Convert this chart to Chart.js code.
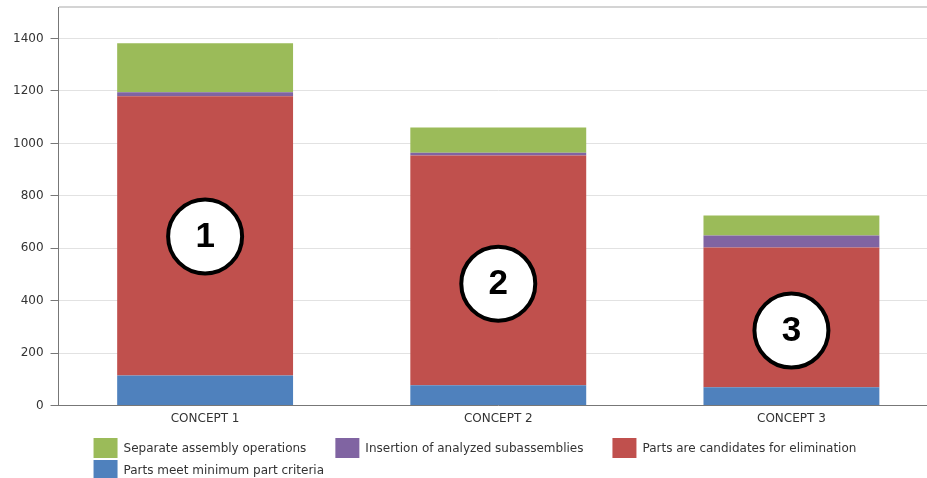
<!DOCTYPE html>
<html>
<head>
<meta charset="utf-8">
<script src="https://cdn.jsdelivr.net/npm/chart.js@4.4.1/dist/chart.umd.min.js"></script>
<style>
  html, body { margin: 0; padding: 0; background: #fff; overflow: hidden; }
  #box { width: 940px; height: 478px; }
</style>
</head>
<body>
<div id="box"><canvas id="grafico"></canvas></div>
<script>
var conceitos = ['CONCEPT 1', 'CONCEPT 2', 'CONCEPT 3'];
var azul = [115, 78, 70];      // Parts meet minimum part criteria
var vermelho = [1065, 876, 533]; // Parts are candidates for elimination
var roxo = [15, 10, 46];       // Insertion of analyzed subassemblies
var verde = [187, 97, 76];     // Separate assembly operations
var yTicks = [0, 200, 400, 600, 800, 1000, 1200, 1400];
var yMax = 1520;
var marcas = ['1', '2', '3'];
var marcaValores = [645, 465, 286];

Chart.defaults.font.family = '"DejaVu Sans", Verdana, sans-serif';
Chart.defaults.font.size = 12;
Chart.defaults.color = '#333';

// circulos numerados sobre as barras
var circulos = {
    id: 'circulos',
    afterDatasetsDraw(chart) {
        const ctx = chart.ctx;
        const meta = chart.getDatasetMeta(0);
        const y = chart.scales.y;
        ctx.save();
        meta.data.forEach(function (bar, i) {
            const cx = bar.x;
            const cy = y.getPixelForValue(marcaValores[i]);
            ctx.beginPath();
            ctx.arc(cx, cy, 37, 0, Math.PI * 2);
            ctx.fillStyle = '#fff';
            ctx.fill();
            ctx.lineWidth = 4;
            ctx.strokeStyle = '#000';
            ctx.stroke();
            ctx.fillStyle = '#000';
            ctx.font = 'bold 35px "Liberation Sans", Arial, sans-serif';
            ctx.textAlign = 'center';
            ctx.textBaseline = 'middle';
            ctx.fillText(marcas[i], cx, cy + 1);
        });
        ctx.restore();
    }
};

// legenda desenhada a mao (alinhada a esquerda, duas linhas)
var legenda = {
    id: 'legenda',
    afterDraw(chart) {
        const ctx = chart.ctx;
        const ds = chart.data.datasets.slice().reverse();
        let x = chart.chartArea.left + 35;
        const x0 = x;
        let y = 438;
        ctx.save();
        ctx.font = '12px "DejaVu Sans", Verdana, sans-serif';
        ctx.textBaseline = 'middle';
        ctx.textAlign = 'left';
        ds.forEach(function (d) {
            const w = 30 + ctx.measureText(d.label).width;
            if (x > x0 && x + w > 900) {
                x = x0;
                y += 22;
            }
            ctx.fillStyle = d.backgroundColor;
            ctx.fillRect(x, y, 24, 20);
            ctx.fillStyle = '#333';
            ctx.fillText(d.label, x + 30, y + 11);
            x += w + 29;
        });
        ctx.restore();
    }
};

new Chart(document.getElementById('grafico'), {
    type: 'bar',
    data: {
        labels: conceitos,
        datasets: [
            { label: 'Parts meet minimum part criteria', data: azul, backgroundColor: '#4F81BD' },
            { label: 'Parts are candidates for elimination', data: vermelho, backgroundColor: '#C0504D' },
            { label: 'Insertion of analyzed subassemblies', data: roxo, backgroundColor: '#8064A2' },
            { label: 'Separate assembly operations', data: verde, backgroundColor: '#9BBB59' }
        ]
    },
    options: {
        responsive: true,
        maintainAspectRatio: false,
        animation: false,
        layout: { padding: { top: 0, left: 6, right: 2, bottom: 54 } },
        datasets: { bar: { barPercentage: 0.6, categoryPercentage: 1 } },
        plugins: {
            legend: { display: false },
            tooltip: { enabled: false }
        },
        scales: {
            x: {
                stacked: true,
                grid: { display: false },
                border: { color: '#777', width: 1 },
                ticks: { padding: -2, color: '#333' }
            },
            y: {
                stacked: true,
                min: 0,
                max: yMax,
                afterBuildTicks: function (s) {
                    s.ticks = yTicks.concat([yMax]).map(function (v) { return { value: v }; });
                },
                grid: {
                    color: function (c) { return c.tick && c.tick.value === yMax ? '#d4d4d4' : '#e2e2e2'; },
                    lineWidth: function (c) { return c.tick && c.tick.value === yMax ? 2 : 1; },
                    tickLength: 8,
                    tickColor: function (c) { return c.tick && c.tick.value === yMax ? 'rgba(0,0,0,0)' : '#777'; }
                },
                border: { color: '#777', width: 1 },
                ticks: {
                    padding: 7,
                    color: '#333',
                    font: { lineHeight: 0.01 },
                    callback: function (v) { return yTicks.indexOf(v) >= 0 ? v : ''; }
                }
            }
        }
    },
    plugins: [circulos, legenda]
});
</script>
</body>
</html>
